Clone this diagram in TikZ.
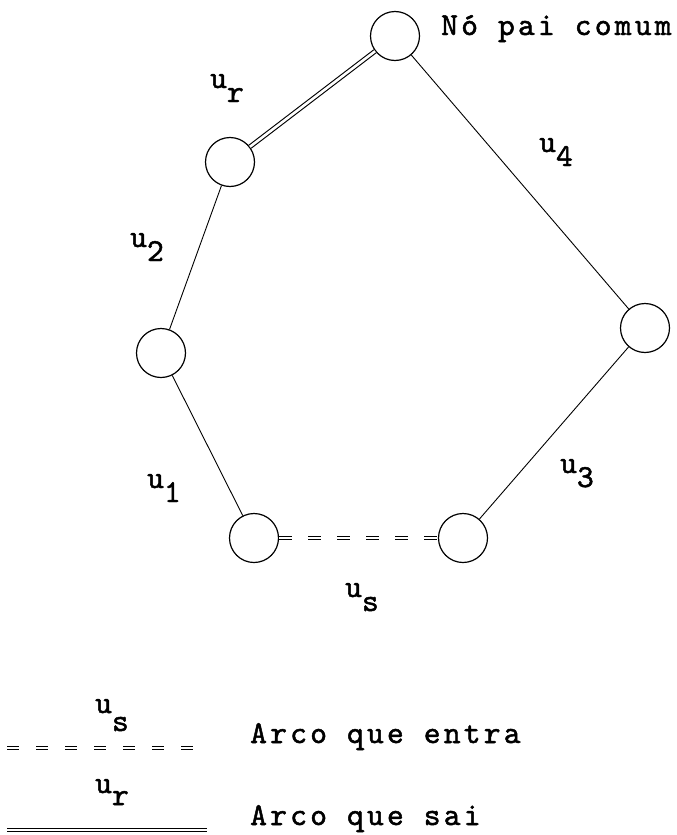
\documentclass[tikz,border=0pt]{standalone}
\usepackage{fontspec}
\setmonofont{lmmono10-regular.otf}[LetterSpace=10,FakeBold=1.5]
\newcommand\subl[3]{#1\raisebox{-#3pt}{#2}}
\begin{document}
\begin{tikzpicture}[x=1pt,y=-1pt,
  nd/.style={circle, draw, line width=1.2pt, minimum size=49pt, inner sep=0pt},
  edge/.style={line width=0.9pt},
  dbl/.style={double, double distance=2.6pt, line width=1.1pt},
  dbldash/.style={dbl, dash pattern=on 13pt off 16pt},
  txt/.style={font=\ttfamily\fontsize{32}{38}\selectfont, inner sep=0pt, anchor=base west}]
\useasboundingbox (0,0) rectangle (677,835);
% nodes
\node[nd] (top) at (395,36) {};
\node[nd] (a) at (230,162) {};
\node[nd] (b) at (161,353) {};
\node[nd] (c) at (254,538) {};
\node[nd] (d) at (463,538) {};
\node[nd] (e) at (645,328) {};
% edges
\draw[edge] (top) -- (e);
\draw[edge] (e) -- (d);
\draw[edge] (b) -- (c);
\draw[edge] (a) -- (b);
\draw[dbl] (a) -- (top);
\draw[dbldash] (c) -- (d);
% labels
\node[txt] (lr) at (210,88) {\subl{u}{r}{14}};
\node[txt] (l2) at (130,247) {\subl{u}{2}{14}};
\node[txt] (l1) at (147,488) {\subl{u}{1}{14}};
\node[txt] (ls) at (345,597) {\subl{u}{s}{14}};
\node[txt] (l3) at (560,473) {\subl{u}{3}{14}};
\node[txt] (l4) at (539,152) {\subl{u}{4}{14}};
\node[txt] (np) at (441,35) {Nó pai comum};
% legend
\coordinate (ls1) at (7,748);
\coordinate (ls2) at (207,748);
\coordinate (lr1) at (7,830);
\coordinate (lr2) at (207,830);
\draw[dbl, dash pattern=on 12pt off 17pt] (ls1) -- (ls2);
\draw[dbl] (lr1) -- (lr2);
\node[txt] (gs) at (95,713) {\subl{u}{s}{18}};
\node[txt] (gr) at (95,793) {\subl{u}{r}{12}};
\node[txt] (t1) at (250,743) {Arco que entra};
\node[txt] (t2) at (250,825) {Arco que sai};
\end{tikzpicture}
\end{document}
